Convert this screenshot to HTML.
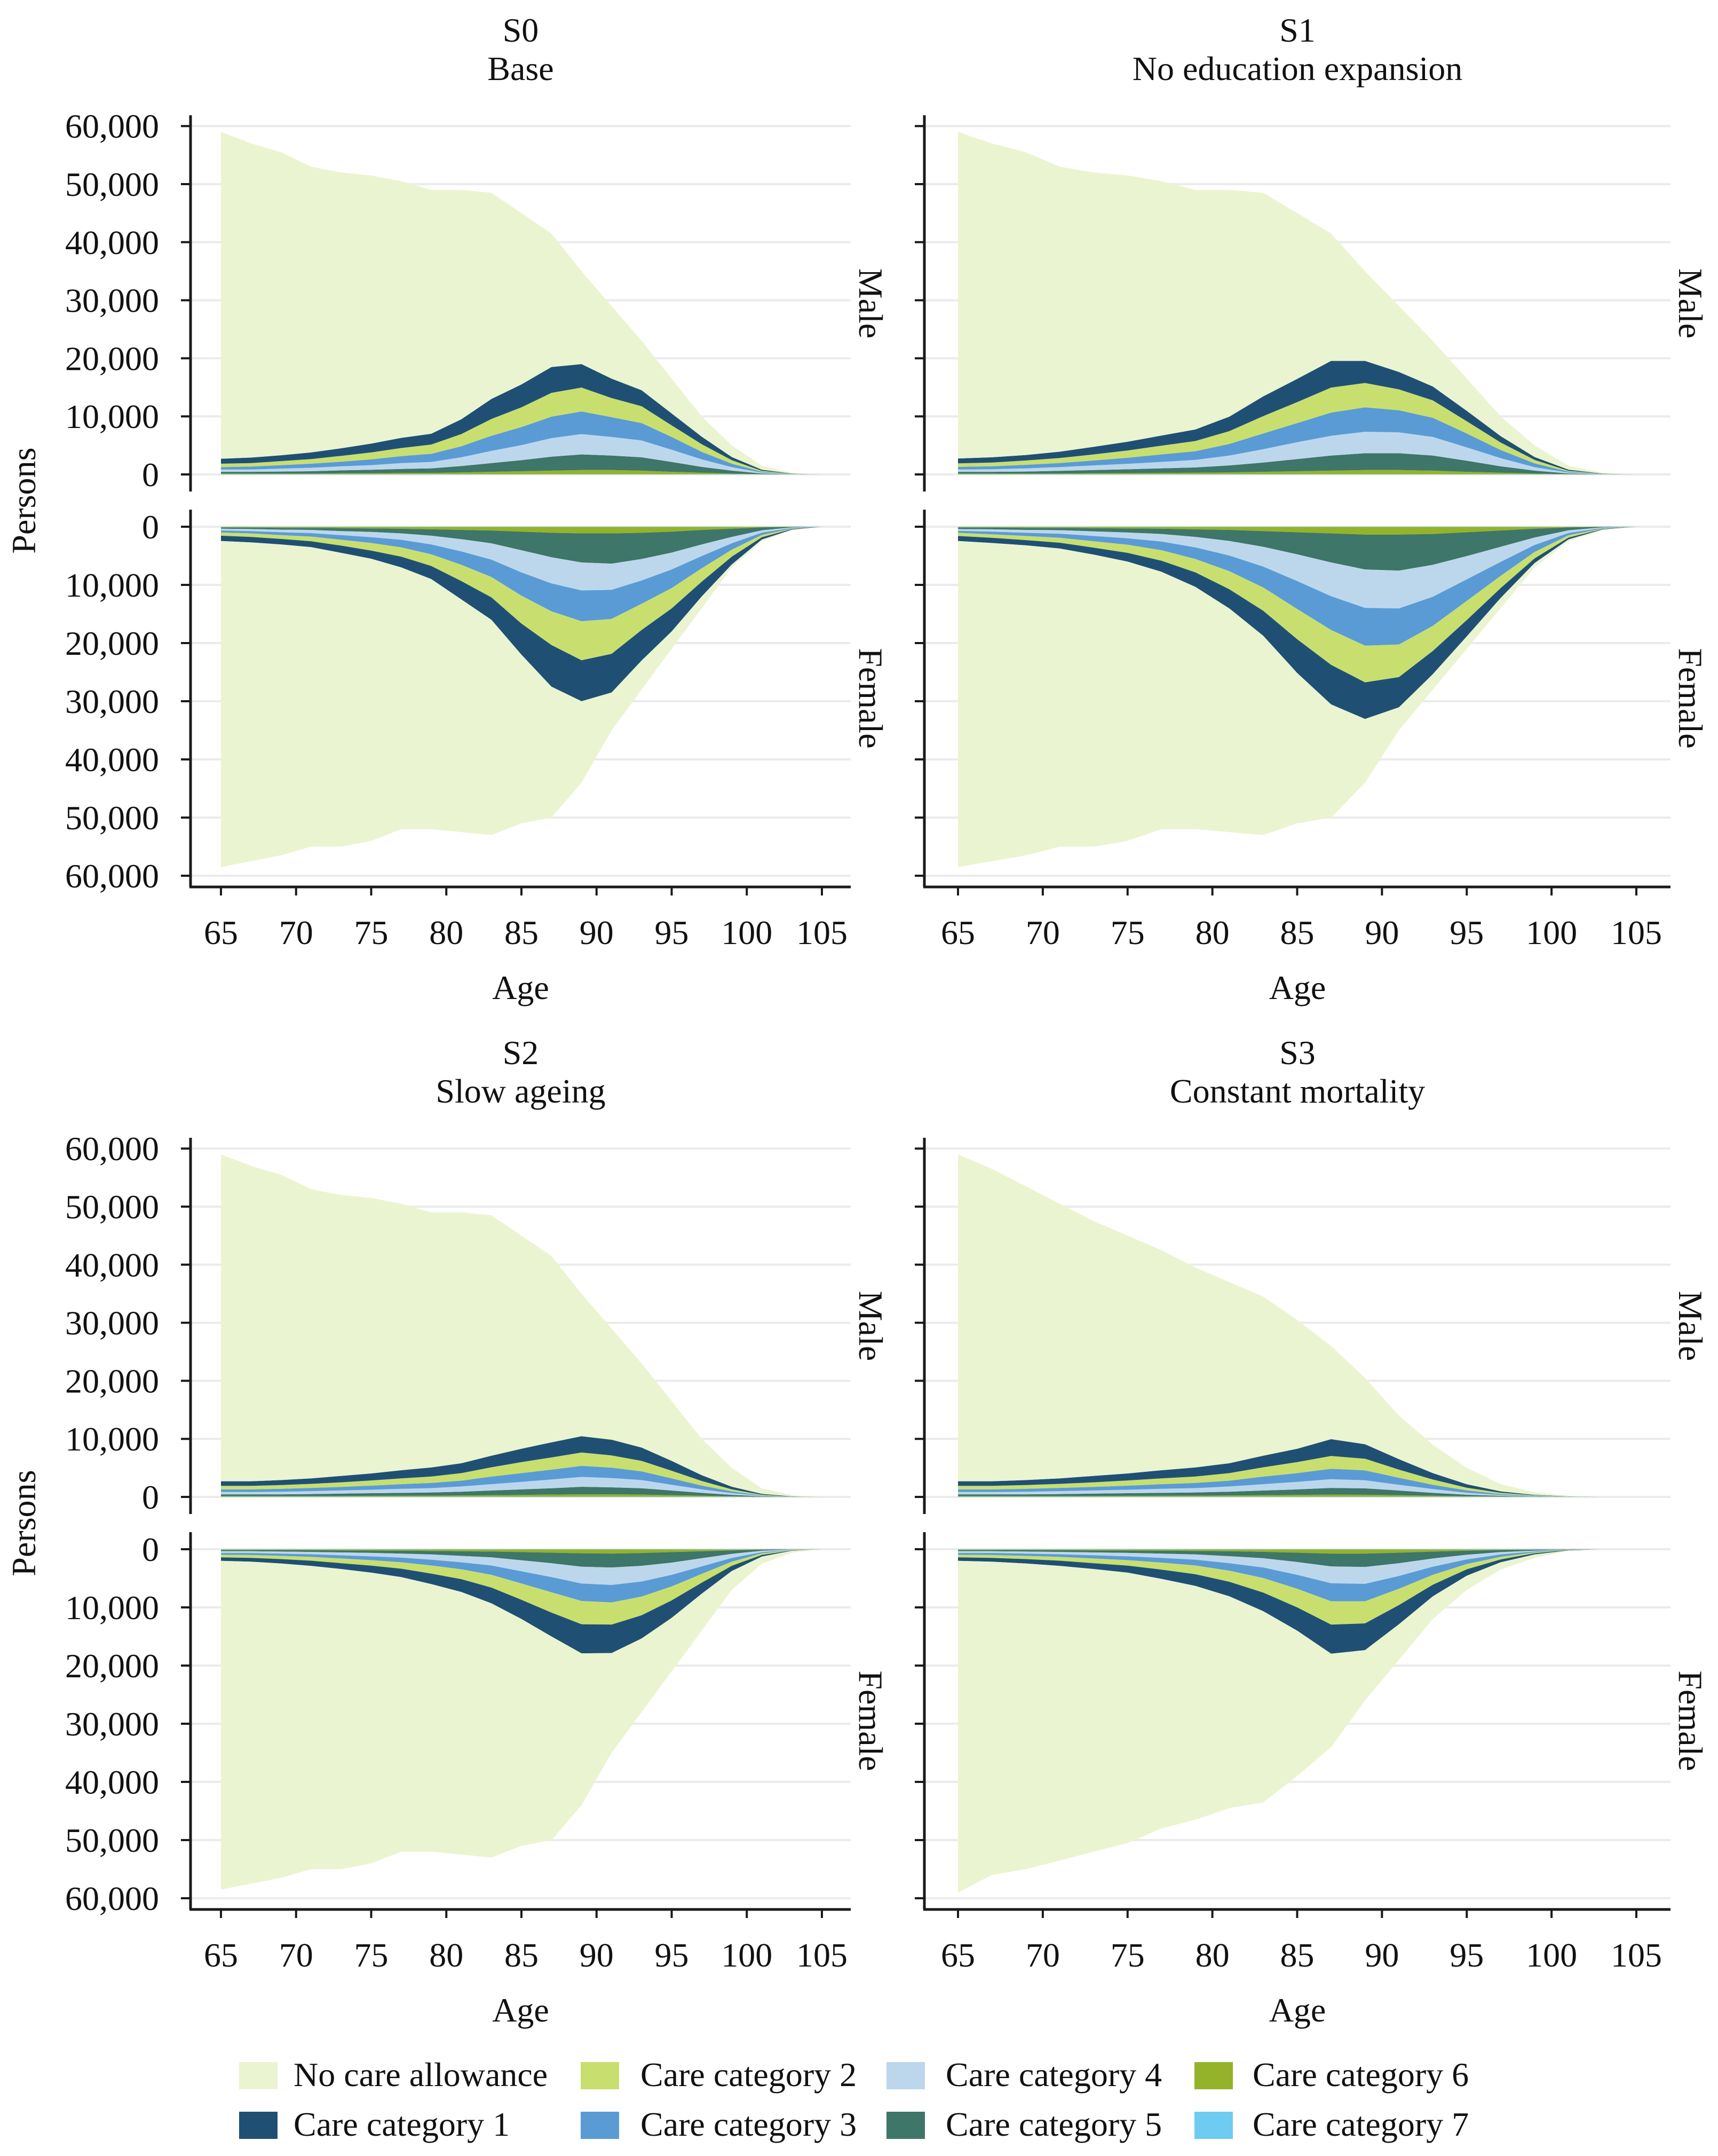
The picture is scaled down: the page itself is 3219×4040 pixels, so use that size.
<!DOCTYPE html>
<html><head><meta charset="utf-8">
<style>
html,body{margin:0;padding:0;background:#fff;}
svg{display:block;font-family:"Liberation Serif","DejaVu Serif",serif;}
</style></head>
<body>
<svg id="chart" width="3219" height="4040" viewBox="0 0 3219 4040" xmlns="http://www.w3.org/2000/svg">
<rect x="0" y="0" width="3219" height="4040" fill="#fff"/>
<g id="panels"></g>
<g id="legend"></g>
</svg>
<script>
// ---- data (thousands of persons), ages every 2 years ----
const ages=[65,67,69,71,73,75,77,79,81,83,85,87,89,91,93,95,97,99,101,103,105];
const yTicks=[0,10,20,30,40,50,60];
const yTickLabels=["0","10,000","20,000","30,000","40,000","50,000","60,000"];
const xTicks=[65,70,75,80,85,90,95,100,105];
const scenarioIds=["S0","S1","S2","S3"];
const scenarioNames=["Base","No education expansion","Slow ageing","Constant mortality"];
const seriesNames=["No care allowance","Care category 1","Care category 2","Care category 3","Care category 4","Care category 5","Care category 6","Care category 7"];

const maleTotal=[59,57,55.5,53,52,51.5,50.5,49,49,48.5,45,41.5,35,29,23,16.5,10,5,1.5,0.3,0];
const femaleTotal=[58.5,57.5,56.5,55,55,54,52,52,52.5,53,51,50,44,35,28,21,14,7,2.5,0.6,0];
const s3MaleTotal=[59,56.5,53.5,50.5,47.5,45,42.5,39.5,37,34.5,30.5,26,20.5,14,9,5,2.2,0.8,0.2,0.05,0];
const s3FemaleTotal=[59,56,55,53.5,52,50.5,48,46.5,44.5,43.5,39,34,26,19,12,7,3.5,1.5,0.3,0.05,0];
const cat7=[0.05,0.05,0.05,0.05,0.05,0.05,0.05,0.05,0.05,0.05,0.05,0.05,0.05,0.05,0.05,0.05,0.05,0.05,0.02,0,0];

const s0m_c6=[0.1,0.1,0.1,0.1,0.15,0.15,0.2,0.2,0.3,0.4,0.5,0.6,0.7,0.7,0.6,0.4,0.25,0.1,0.03,0,0];
const s0m_c5=[0.3,0.3,0.35,0.4,0.5,0.6,0.7,0.8,1.1,1.5,1.9,2.4,2.7,2.5,2.3,1.7,1.0,0.5,0.12,0.02,0];
const s0m_c4=[0.4,0.4,0.5,0.6,0.7,0.8,1.0,1.1,1.5,2.1,2.6,3.2,3.5,3.2,2.9,2.1,1.3,0.6,0.15,0.03,0];
const s0m_c3=[0.4,0.5,0.6,0.7,0.8,1.0,1.2,1.4,1.9,2.6,3.1,3.7,3.9,3.4,3.0,2.2,1.3,0.6,0.15,0.03,0];
const s0m_c2=[0.6,0.6,0.7,0.8,1.0,1.2,1.4,1.6,2.1,2.9,3.4,4.1,4.1,3.3,2.9,2.0,1.3,0.6,0.15,0.03,0];
const s0m_c1=[0.85,0.95,1.0,1.15,1.3,1.5,1.75,1.85,2.55,3.45,3.95,4.45,4.05,3.35,2.75,2.05,1.3,0.55,0.2,0.04,0];

const s0f_c6=[0.1,0.1,0.15,0.15,0.2,0.25,0.3,0.4,0.5,0.6,0.8,1.0,1.1,1.1,1.0,0.8,0.5,0.3,0.1,0.02,0];
const s0f_c5=[0.2,0.25,0.3,0.35,0.5,0.6,0.8,1.1,1.6,2.2,3.2,4.2,5.0,5.2,4.5,3.6,2.5,1.4,0.5,0.1,0];
const s0f_c4=[0.3,0.35,0.45,0.55,0.7,0.9,1.1,1.5,2.1,2.8,3.8,4.5,4.8,4.5,3.7,2.9,2.0,1.1,0.4,0.1,0];
const s0f_c3=[0.35,0.4,0.5,0.6,0.8,1.0,1.3,1.7,2.3,3.0,4.0,4.8,5.3,5.0,4.0,3.2,2.1,1.1,0.4,0.1,0];
const s0f_c2=[0.55,0.6,0.65,0.8,1.0,1.3,1.6,2.0,2.8,3.5,4.8,5.8,6.7,6.0,4.5,3.5,2.3,1.2,0.4,0.08,0];
const s0f_c1=[0.9,0.95,0.95,1.0,1.25,1.4,1.85,2.25,3.15,3.85,5.35,7.15,7.05,6.65,5.25,3.95,2.55,1.35,0.38,0.1,0];

const s1m_c6=[0.1,0.1,0.1,0.12,0.15,0.18,0.2,0.25,0.3,0.4,0.5,0.6,0.7,0.7,0.6,0.4,0.25,0.1,0.03,0,0];
const s1m_c5=[0.3,0.3,0.35,0.45,0.55,0.65,0.8,0.9,1.2,1.6,2.1,2.6,2.9,2.9,2.6,1.9,1.1,0.5,0.12,0.02,0];
const s1m_c4=[0.4,0.45,0.55,0.65,0.8,0.95,1.1,1.3,1.7,2.3,2.9,3.4,3.7,3.6,3.2,2.3,1.4,0.6,0.15,0.03,0];
const s1m_c3=[0.45,0.5,0.6,0.7,0.85,1.05,1.3,1.5,2.0,2.7,3.3,4.0,4.2,3.8,3.3,2.4,1.4,0.65,0.15,0.03,0];
const s1m_c2=[0.6,0.65,0.75,0.85,1.05,1.25,1.5,1.75,2.2,3.0,3.6,4.3,4.2,3.6,3.0,2.1,1.3,0.6,0.15,0.03,0];
const s1m_c1=[0.85,0.9,0.95,1.1,1.3,1.5,1.75,2.0,2.5,3.4,4.0,4.6,3.8,3.0,2.4,1.8,1.1,0.5,0.2,0.04,0];

const s1f_c6=[0.1,0.1,0.15,0.15,0.2,0.25,0.3,0.4,0.5,0.7,0.9,1.1,1.3,1.3,1.2,0.9,0.6,0.3,0.1,0.02,0];
const s1f_c5=[0.25,0.3,0.35,0.4,0.55,0.7,0.9,1.3,1.9,2.7,3.8,5.0,6.0,6.2,5.3,4.1,2.8,1.5,0.5,0.1,0];
const s1f_c4=[0.3,0.4,0.5,0.6,0.8,1.0,1.3,1.8,2.5,3.4,4.6,5.8,6.6,6.5,5.5,4.0,2.6,1.3,0.45,0.1,0];
const s1f_c3=[0.35,0.45,0.55,0.7,0.9,1.1,1.5,2.0,2.7,3.6,4.8,5.8,6.5,6.2,5.0,3.7,2.4,1.2,0.4,0.1,0];
const s1f_c2=[0.55,0.6,0.7,0.85,1.1,1.4,1.8,2.3,3.1,4.0,5.2,6.0,6.3,5.6,4.3,3.3,2.1,1.1,0.4,0.08,0];
const s1f_c1=[0.85,0.9,0.9,1.0,1.2,1.5,1.9,2.5,3.3,4.3,5.8,6.8,6.3,5.2,4.0,2.8,1.7,0.8,0.3,0.08,0];

const s2m_c6=[0.1,0.1,0.1,0.1,0.12,0.14,0.15,0.17,0.2,0.25,0.3,0.35,0.4,0.4,0.35,0.25,0.15,0.06,0.02,0,0];
const s2m_c5=[0.3,0.3,0.3,0.35,0.4,0.45,0.5,0.55,0.65,0.8,0.95,1.1,1.3,1.2,1.1,0.8,0.5,0.25,0.07,0.01,0];
const s2m_c4=[0.4,0.4,0.45,0.5,0.55,0.6,0.7,0.75,0.9,1.1,1.3,1.5,1.7,1.6,1.4,1.0,0.6,0.3,0.08,0.02,0];
const s2m_c3=[0.45,0.45,0.5,0.55,0.6,0.7,0.8,0.9,1.0,1.3,1.5,1.7,1.9,1.8,1.5,1.1,0.65,0.3,0.08,0.02,0];
const s2m_c2=[0.6,0.6,0.65,0.7,0.8,0.9,1.0,1.1,1.3,1.6,1.9,2.1,2.3,2.1,1.8,1.3,0.8,0.35,0.1,0.02,0];
const s2m_c1=[0.8,0.8,0.85,0.95,1.1,1.2,1.4,1.55,1.7,2.0,2.3,2.6,2.8,2.7,2.3,1.7,1.0,0.45,0.15,0.03,0];

const s2f_c6=[0.1,0.1,0.1,0.12,0.15,0.18,0.2,0.25,0.3,0.35,0.45,0.55,0.65,0.7,0.6,0.45,0.3,0.15,0.05,0.01,0];
const s2f_c5=[0.2,0.2,0.25,0.3,0.35,0.4,0.5,0.6,0.8,1.0,1.4,1.8,2.3,2.4,2.2,1.8,1.2,0.6,0.2,0.04,0];
const s2f_c4=[0.3,0.3,0.35,0.4,0.5,0.6,0.7,0.9,1.1,1.4,1.9,2.4,2.9,3.0,2.7,2.1,1.4,0.7,0.25,0.05,0];
const s2f_c3=[0.3,0.35,0.4,0.45,0.55,0.65,0.8,1.0,1.2,1.6,2.1,2.6,3.0,3.0,2.6,2.0,1.3,0.65,0.2,0.05,0];
const s2f_c2=[0.45,0.5,0.55,0.65,0.8,0.95,1.1,1.4,1.7,2.2,2.8,3.5,4.0,3.8,3.2,2.4,1.5,0.7,0.25,0.05,0];
const s2f_c1=[0.6,0.65,0.75,0.9,1.0,1.2,1.45,1.8,2.2,2.7,3.3,4.1,5.0,4.9,4.0,3.0,1.9,0.9,0.3,0.07,0];

const s3m_c6=[0.1,0.1,0.1,0.1,0.12,0.14,0.15,0.17,0.2,0.25,0.3,0.35,0.33,0.25,0.15,0.08,0.04,0.01,0,0,0];
const s3m_c5=[0.3,0.3,0.3,0.35,0.4,0.45,0.5,0.55,0.65,0.8,0.95,1.15,1.1,0.8,0.5,0.25,0.1,0.04,0.01,0,0];
const s3m_c4=[0.4,0.4,0.45,0.5,0.55,0.6,0.7,0.75,0.9,1.1,1.3,1.5,1.4,1.0,0.65,0.35,0.15,0.05,0.01,0,0];
const s3m_c3=[0.45,0.45,0.5,0.55,0.6,0.7,0.8,0.9,1.0,1.3,1.5,1.8,1.7,1.2,0.75,0.4,0.17,0.06,0.01,0,0];
const s3m_c2=[0.6,0.6,0.65,0.7,0.8,0.9,1.0,1.1,1.3,1.6,1.9,2.2,2.0,1.4,0.9,0.45,0.2,0.07,0.02,0,0];
const s3m_c1=[0.8,0.8,0.85,0.95,1.1,1.2,1.4,1.55,1.7,2.0,2.3,2.9,2.5,1.8,1.1,0.6,0.25,0.08,0.02,0,0];

const s3f_c6=[0.1,0.1,0.1,0.12,0.15,0.18,0.2,0.25,0.3,0.4,0.55,0.7,0.7,0.55,0.35,0.2,0.1,0.04,0.01,0,0];
const s3f_c5=[0.2,0.2,0.25,0.3,0.35,0.4,0.5,0.6,0.85,1.1,1.6,2.2,2.3,1.8,1.2,0.7,0.35,0.15,0.03,0,0];
const s3f_c4=[0.3,0.3,0.35,0.4,0.5,0.6,0.75,0.9,1.2,1.6,2.2,2.9,2.9,2.2,1.4,0.8,0.4,0.15,0.03,0,0];
const s3f_c3=[0.3,0.35,0.4,0.45,0.55,0.65,0.8,1.0,1.3,1.8,2.4,3.1,3.0,2.2,1.4,0.8,0.4,0.15,0.03,0,0];
const s3f_c2=[0.45,0.5,0.55,0.65,0.8,0.95,1.2,1.5,1.9,2.5,3.2,4.0,3.8,2.8,1.7,0.9,0.45,0.15,0.03,0,0];
const s3f_c1=[0.6,0.65,0.75,0.9,1.0,1.2,1.6,2.0,2.5,3.2,4.0,5.0,4.6,3.3,2.0,1.1,0.5,0.2,0.05,0,0];

const colors=["#ebf4d0","#1f5074","#c8df6f","#5a9bd5","#bcd7ec","#3e7669","#95b32a","#6ecbf2"];

const panelsData=[
 {m:[maleTotal,s0m_c1,s0m_c2,s0m_c3,s0m_c4,s0m_c5,s0m_c6,cat7], f:[femaleTotal,s0f_c1,s0f_c2,s0f_c3,s0f_c4,s0f_c5,s0f_c6,cat7]},
 {m:[maleTotal,s1m_c1,s1m_c2,s1m_c3,s1m_c4,s1m_c5,s1m_c6,cat7], f:[femaleTotal,s1f_c1,s1f_c2,s1f_c3,s1f_c4,s1f_c5,s1f_c6,cat7]},
 {m:[maleTotal,s2m_c1,s2m_c2,s2m_c3,s2m_c4,s2m_c5,s2m_c6,cat7], f:[femaleTotal,s2f_c1,s2f_c2,s2f_c3,s2f_c4,s2f_c5,s2f_c6,cat7]},
 {m:[s3MaleTotal,s3m_c1,s3m_c2,s3m_c3,s3m_c4,s3m_c5,s3m_c6,cat7], f:[s3FemaleTotal,s3f_c1,s3f_c2,s3f_c3,s3f_c4,s3f_c5,s3f_c6,cat7]}
];

const NS="http://www.w3.org/2000/svg";
function mk(tag,attrs,parent){const e=document.createElementNS(NS,tag);for(const k in attrs)e.setAttribute(k,attrs[k]);parent.appendChild(e);return e;}
const root=document.getElementById('panels');

const layouts=[
 {axisX:357,right:1594,x65:414,x105:1540,dy:0,labels:true},
 {axisX:1732,right:3130,x65:1795,x105:3066,dy:0,labels:false},
 {axisX:357,right:1594,x65:414,x105:1540,dy:1916,labels:true},
 {axisX:1732,right:3130,x65:1795,x105:3066,dy:1916,labels:false}
];

function drawHalf(g,L,series,sex){
  const dy=L.dy;
  const xs=a=>L.x65+(a-65)*(L.x105-L.x65)/40;
  const zero= sex==='m'?889+dy:987+dy;
  const ys= sex==='m'? v=>zero-v*10.88 : v=>zero+v*10.9;
  const top= sex==='m'?216+dy:955+dy;
  const bottom= sex==='m'?921+dy:1662+dy;
  yTicks.forEach(t=>{
    const gl=mk('line',{x1:L.axisX,x2:L.right,y1:ys(t),y2:ys(t),stroke:'#ebebeb','stroke-width':4},g);
    
    
  });
  const n=ages.length;
  let cum=new Array(n).fill(0);
  const layers=[];
  for(let k=7;k>=1;k--){
    const lo=cum.slice();
    const hi=cum.map((c,i)=>c+series[k][i]);
    layers.push({k,lo,hi});
    cum=hi;
  }
  const totalHi=series[0].map((t,i)=>Math.max(t,cum[i]));
  layers.push({k:0,lo:cum.slice(),hi:totalHi});
  layers.forEach(Ly=>{
    let pts=[];
    for(let i=0;i<n;i++)pts.push(xs(ages[i]).toFixed(1)+','+ys(Ly.hi[i]).toFixed(1));
    for(let i=n-1;i>=0;i--)pts.push(xs(ages[i]).toFixed(1)+','+ys(Ly.lo[i]).toFixed(1));
    const p=mk('polygon',{points:pts.join(' '),fill:colors[Ly.k]},g);
    
    
  });
  const ax=mk('line',{x1:L.axisX,x2:L.axisX,y1:top,y2:bottom,stroke:'#1a1a1a','stroke-width':5},g);
  
  
  yTicks.forEach((t,i)=>{
    const tk=mk('line',{x1:L.axisX-18,x2:L.axisX,y1:ys(t),y2:ys(t),stroke:'#1a1a1a','stroke-width':4},g);
    
    
    if(L.labels){
      const tl=mk('text',{x:298,y:ys(t)+22,'text-anchor':'end','font-size':64,fill:'#111'},g);
      tl.textContent=yTickLabels[i];
      
      
    }
  });
  const sx=L.right+16, sy=(top+bottom)/2;
  const st=mk('text',{x:sx,y:sy,'text-anchor':'middle','font-size':64,fill:'#111',transform:`rotate(90 ${sx} ${sy})`},g);
  st.textContent= sex==='m'?'Male':'Female';
  
  
}

layouts.forEach((L,pi)=>{
  const g=mk('g',{},root);
  
  
  const cx=(L.axisX+L.right)/2;
  const t1=mk('text',{x:cx,y:78+L.dy,'text-anchor':'middle','font-size':64,fill:'#111'},g);
  t1.textContent=scenarioIds[pi];
  
  
  const t2=mk('text',{x:cx,y:150+L.dy,'text-anchor':'middle','font-size':64,fill:'#111'},g);
  t2.textContent=scenarioNames[pi];
  
  
  drawHalf(g,L,panelsData[pi].m,'m');
  drawHalf(g,L,panelsData[pi].f,'f');
  const xa=mk('line',{x1:L.axisX-2,x2:L.right,y1:1662+L.dy,y2:1662+L.dy,stroke:'#1a1a1a','stroke-width':5},g);
  
  
  xTicks.forEach(a=>{
    const x=L.x65+(a-65)*(L.x105-L.x65)/40;
    const tk=mk('line',{x1:x,x2:x,y1:1662+L.dy,y2:1678+L.dy,stroke:'#1a1a1a','stroke-width':4},g);
    
    
    const tl=mk('text',{x:x,y:1769+L.dy,'text-anchor':'middle','font-size':64,fill:'#111'},g);
    tl.textContent=String(a);
    
    
  });
  const at=mk('text',{x:cx,y:1872+L.dy,'text-anchor':'middle','font-size':64,fill:'#111'},g);
  at.textContent='Age';
  
  
  if(L.labels){
    const py=938+L.dy;
    const pt=mk('text',{x:66,y:py,'text-anchor':'middle','font-size':64,fill:'#111',transform:`rotate(-90 66 ${py})`},g);
    pt.textContent='Persons';
    
    
  }
});

const lg=document.getElementById('legend');
const keyX=[448,1088,1661,2238], textX=[550,1200,1772,2347], rowY=[3864,3957];
seriesNames.forEach((nm,i)=>{
  const col=Math.floor(i/2), row=i%2;
  const e=mk('g',{},lg);
  
  
  const r=mk('rect',{x:keyX[col],y:rowY[row],width:72,height:51,fill:colors[i]},e);
  
  
  const t=mk('text',{x:textX[col],y:rowY[row]+45,'font-size':64,fill:'#111'},e);
  t.textContent=nm;
  
  
});
</script>
</body></html>
